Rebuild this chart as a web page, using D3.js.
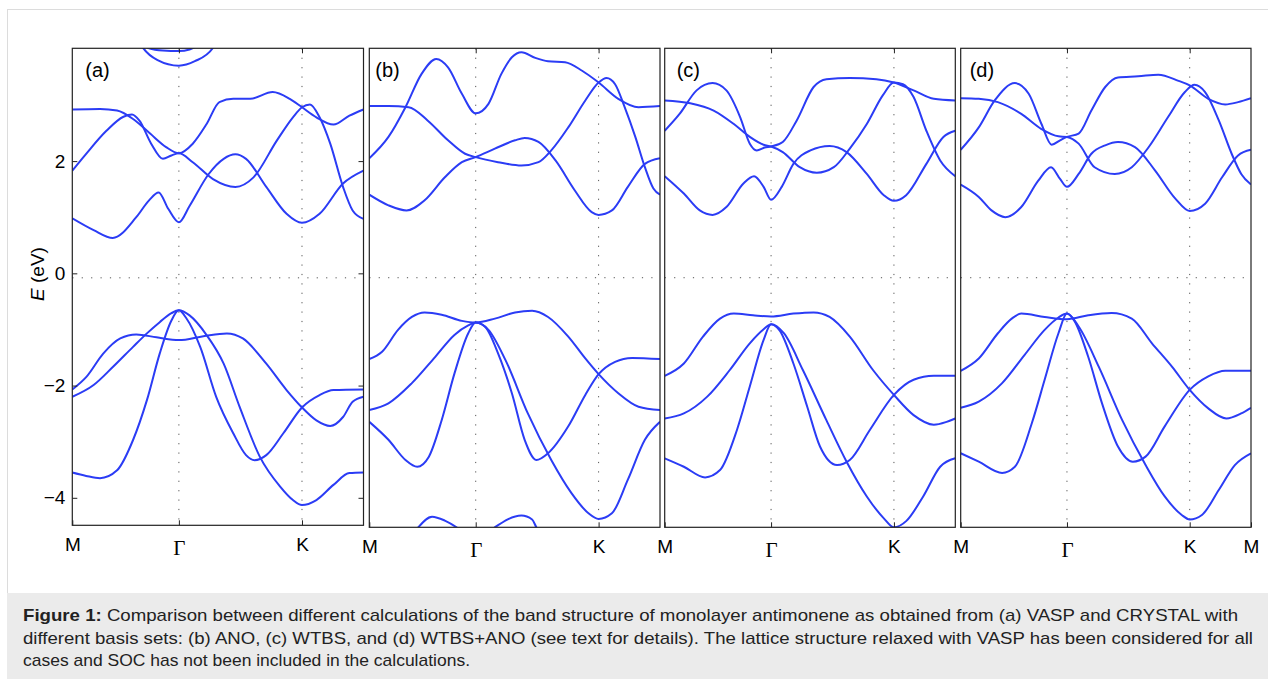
<!DOCTYPE html>
<html>
<head>
<meta charset="utf-8">
<script src="https://cdn.jsdelivr.net/npm/d3@7"></script>
<style>
  body { margin: 0; background: #fff; }
  svg { display: block; }
</style>
</head>
<body>
<div id="chart"></div>
<script>
// high-symmetry path M - Γ - K - M (path length units)
const kTicks = [0, 1, 2.155, 2.732];
const kLabels = ["M", "Γ", "K", "M"];
const eTicks = [-4, -2, 0, 2];
const fermiLevel = -0.08;
const panelLetters = ["(a)", "(b)", "(c)", "(d)"];

// (a) VASP
const bandsA = [
    [[0,0.98],[0.2,0.77],[0.38,0.63],[0.6,1.0],[0.72,1.3],[0.81,1.44],[0.9,1.15],[1,0.91],[1.1,1.2],[1.28,1.77],[1.42,2.04],[1.53,2.12],[1.63,2.04],[1.82,1.54],[2.01,1.06],[2.155,0.9],[2.32,1.06],[2.54,1.6],[2.732,1.83]],
    [[0,1.83],[0.13,2.13],[0.32,2.54],[0.48,2.79],[0.56,2.83],[0.63,2.72],[0.74,2.31],[0.85,2.04],[0.93,2.1],[1,2.14],[1.13,1.98],[1.32,1.68],[1.53,1.54],[1.7,1.71],[1.92,2.37],[2.07,2.78],[2.155,2.96],[2.23,3.01],[2.32,2.78],[2.42,2.31],[2.54,1.54],[2.63,1.12],[2.732,0.97]],
    [[0,2.92],[0.26,2.93],[0.42,2.9],[0.57,2.75],[0.73,2.49],[0.88,2.25],[1,2.14],[1.13,2.31],[1.26,2.66],[1.38,3.05],[1.51,3.11],[1.67,3.11],[1.88,3.23],[2.04,3.11],[2.155,2.96],[2.29,2.78],[2.45,2.65],[2.6,2.81],[2.732,2.92]],
    [[0.62,4.15],[0.667,4.01],[0.8,3.8],[1,3.7],[1.15,3.78],[1.317,4.01],[1.36,4.15]],
    [[0.66,4.08],[0.72,4.01],[0.85,3.97],[1,3.96],[1.1,3.99],[1.16,4.04],[1.22,4.1]],
    [[0,-2.07],[0.13,-1.85],[0.29,-1.43],[0.45,-1.16],[0.6,-1.09],[0.79,-1.14],[1,-1.19],[1.23,-1.12],[1.45,-1.07],[1.6,-1.16],[1.82,-1.61],[2.01,-2.08],[2.155,-2.39],[2.29,-2.62],[2.42,-2.72],[2.54,-2.56],[2.63,-2.29],[2.732,-2.2]],
    [[0,-2.2],[0.2,-1.99],[0.38,-1.67],[0.57,-1.31],[0.7,-1.07],[0.82,-0.87],[0.93,-0.71],[1,-0.66],[1.07,-0.8],[1.2,-1.31],[1.35,-2.2],[1.51,-2.85],[1.63,-3.24],[1.71,-3.33],[1.82,-3.24],[1.98,-2.85],[2.155,-2.39],[2.32,-2.17],[2.45,-2.08],[2.732,-2.07]],
    [[0,-3.55],[0.13,-3.61],[0.26,-3.65],[0.42,-3.51],[0.57,-2.97],[0.7,-2.26],[0.82,-1.43],[0.93,-0.84],[1,-0.66],[1.1,-0.75],[1.26,-1.1],[1.42,-1.61],[1.57,-2.38],[1.76,-3.27],[1.95,-3.8],[2.07,-4.04],[2.155,-4.13],[2.29,-4.04],[2.45,-3.77],[2.6,-3.56],[2.732,-3.55]]
];

// (b) CRYSTAL ANO
const bandsB = [
    [[0,1.4],[0.18,1.21],[0.35,1.12],[0.52,1.3],[0.71,1.71],[0.87,1.98],[1,2.07],[1.18,2.22],[1.37,2.37],[1.46,2.41],[1.59,2.34],[1.75,2.01],[1.93,1.48],[2.09,1.09],[2.155,1.04],[2.28,1.12],[2.43,1.54],[2.59,1.95],[2.732,2.05]],
    [[0,2.05],[0.18,2.43],[0.34,2.96],[0.49,3.55],[0.63,3.82],[0.74,3.67],[0.87,3.2],[1,2.85],[1.12,3.02],[1.24,3.55],[1.34,3.85],[1.43,3.94],[1.56,3.84],[1.68,3.78],[1.84,3.76],[2.0,3.61],[2.155,3.4],[2.34,3.11],[2.53,2.96],[2.732,2.98]],
    [[0,2.98],[0.18,2.98],[0.37,2.96],[0.55,2.72],[0.74,2.37],[0.9,2.13],[1,2.07],[1.21,1.98],[1.43,1.92],[1.59,1.98],[1.71,2.19],[1.87,2.6],[2.03,3.08],[2.155,3.4],[2.23,3.48],[2.31,3.37],[2.4,2.96],[2.5,2.43],[2.59,1.89],[2.67,1.51],[2.732,1.4]],
    [[0,-1.53],[0.12,-1.4],[0.27,-1.01],[0.4,-0.78],[0.52,-0.7],[0.68,-0.74],[0.87,-0.85],[1,-0.88],[1.18,-0.81],[1.37,-0.7],[1.53,-0.67],[1.68,-0.78],[1.87,-1.13],[2.03,-1.52],[2.155,-1.8],[2.34,-2.14],[2.53,-2.38],[2.732,-2.44]],
    [[0,-2.44],[0.18,-2.32],[0.4,-1.96],[0.62,-1.49],[0.8,-1.1],[0.93,-0.93],[1,-0.88],[1.09,-0.96],[1.21,-1.43],[1.34,-2.14],[1.46,-2.97],[1.57,-3.33],[1.68,-3.21],[1.87,-2.73],[2.03,-2.17],[2.155,-1.8],[2.31,-1.58],[2.47,-1.51],[2.732,-1.53]],
    [[0,-2.65],[0.18,-2.97],[0.34,-3.33],[0.45,-3.45],[0.56,-3.27],[0.68,-2.62],[0.8,-1.79],[0.93,-1.07],[1,-0.88],[1.12,-1.01],[1.28,-1.55],[1.49,-2.5],[1.71,-3.33],[1.9,-3.92],[2.06,-4.28],[2.155,-4.38],[2.28,-4.28],[2.43,-3.68],[2.59,-2.97],[2.732,-2.65]],
    [[0.34,-4.87],[0.46,-4.53],[0.59,-4.34],[0.71,-4.41],[0.82,-4.53],[1,-4.81],[1.18,-4.53],[1.43,-4.32],[1.53,-4.39],[1.57,-4.53],[1.68,-4.87]]
];

// (c) CRYSTAL WTBS
const bandsC = [
    [[0,1.73],[0.18,1.42],[0.33,1.12],[0.45,1.04],[0.58,1.18],[0.74,1.6],[0.84,1.73],[0.93,1.54],[1,1.31],[1.1,1.54],[1.21,1.95],[1.37,2.19],[1.55,2.27],[1.71,2.16],[1.9,1.77],[2.06,1.39],[2.155,1.29],[2.27,1.39],[2.46,1.95],[2.62,2.43],[2.732,2.54]],
    [[0,2.54],[0.14,2.84],[0.3,3.26],[0.45,3.39],[0.58,3.26],[0.71,2.78],[0.8,2.31],[0.865,2.19],[0.94,2.24],[1,2.26],[1.11,2.34],[1.24,2.72],[1.4,3.32],[1.52,3.46],[1.74,3.48],[1.99,3.46],[2.155,3.4],[2.34,3.26],[2.53,3.11],[2.732,3.08]],
    [[0,3.08],[0.24,3.03],[0.46,2.9],[0.65,2.66],[0.8,2.43],[0.93,2.29],[1,2.26],[1.11,2.16],[1.27,1.89],[1.43,1.79],[1.59,1.89],[1.74,2.22],[1.9,2.66],[2.05,3.17],[2.155,3.4],[2.24,3.37],[2.34,3.14],[2.46,2.54],[2.59,2.01],[2.732,1.73]],
    [[0,-1.83],[0.18,-1.61],[0.36,-1.13],[0.52,-0.81],[0.65,-0.72],[0.83,-0.75],[1,-0.77],[1.21,-0.72],[1.4,-0.7],[1.55,-0.78],[1.74,-1.13],[1.96,-1.73],[2.155,-2.17],[2.34,-2.53],[2.53,-2.7],[2.65,-2.65],[2.732,-2.59]],
    [[0,-2.59],[0.18,-2.5],[0.4,-2.2],[0.61,-1.73],[0.8,-1.25],[0.93,-1.0],[1,-0.91],[1.08,-1.02],[1.21,-1.61],[1.34,-2.38],[1.46,-3.09],[1.62,-3.42],[1.74,-3.33],[1.93,-2.79],[2.155,-2.17],[2.34,-1.9],[2.53,-1.83],[2.732,-1.83]],
    [[0,-3.3],[0.18,-3.45],[0.38,-3.64],[0.52,-3.51],[0.68,-2.79],[0.8,-2.02],[0.93,-1.19],[1,-0.91],[1.12,-1.07],[1.3,-1.73],[1.52,-2.62],[1.71,-3.36],[1.9,-3.98],[2.06,-4.37],[2.155,-4.53],[2.27,-4.42],[2.43,-3.98],[2.59,-3.45],[2.732,-3.3]]
];

// (d) CRYSTAL WTBS+ANO
const bandsD = [
    [[0,1.58],[0.17,1.36],[0.29,1.12],[0.42,1.0],[0.57,1.18],[0.73,1.65],[0.85,1.89],[0.935,1.68],[1,1.54],[1.11,1.77],[1.23,2.13],[1.36,2.28],[1.48,2.34],[1.64,2.25],[1.83,1.83],[2.02,1.33],[2.155,1.11],[2.3,1.24],[2.46,1.71],[2.61,2.1],[2.732,2.2]],
    [[0,2.2],[0.17,2.6],[0.32,3.08],[0.51,3.39],[0.64,3.2],[0.76,2.66],[0.856,2.29],[0.935,2.37],[1,2.43],[1.11,2.49],[1.23,2.9],[1.36,3.32],[1.48,3.49],[1.67,3.51],[1.86,3.54],[2.05,3.43],[2.155,3.35],[2.33,3.11],[2.49,3.01],[2.61,3.05],[2.732,3.12]],
    [[0,3.12],[0.17,3.11],[0.35,3.05],[0.57,2.84],[0.76,2.57],[0.92,2.44],[1,2.43],[1.11,2.31],[1.26,1.89],[1.45,1.77],[1.61,1.89],[1.77,2.25],[1.95,2.78],[2.11,3.23],[2.2,3.36],[2.3,3.23],[2.43,2.72],[2.55,2.13],[2.64,1.77],[2.732,1.58]],
    [[0,-1.74],[0.17,-1.52],[0.35,-1.07],[0.48,-0.81],[0.57,-0.72],[0.79,-0.78],[1,-0.82],[1.2,-0.75],[1.42,-0.71],[1.61,-0.81],[1.8,-1.25],[1.99,-1.67],[2.155,-2.08],[2.33,-2.41],[2.5,-2.59],[2.64,-2.5],[2.732,-2.4]],
    [[0,-2.4],[0.17,-2.29],[0.39,-1.96],[0.6,-1.46],[0.79,-1.01],[0.92,-0.79],[1,-0.72],[1.07,-0.85],[1.2,-1.49],[1.33,-2.32],[1.48,-3.09],[1.62,-3.36],[1.74,-3.27],[1.92,-2.73],[2.155,-2.08],[2.33,-1.84],[2.49,-1.74],[2.732,-1.74]],
    [[0,-3.21],[0.17,-3.36],[0.39,-3.56],[0.51,-3.45],[0.67,-2.67],[0.79,-1.9],[0.92,-1.07],[1,-0.72],[1.11,-0.95],[1.3,-1.67],[1.52,-2.62],[1.74,-3.42],[1.92,-3.98],[2.08,-4.31],[2.155,-4.39],[2.27,-4.31],[2.43,-3.86],[2.58,-3.42],[2.732,-3.21]]
];

const captionLines = [
    "Comparison between different calculations of the band structure of monolayer antimonene as obtained from (a) VASP and CRYSTAL with",
    "different basis sets: (b) ANO, (c) WTBS, and (d) WTBS+ANO (see text for details). The lattice structure relaxed with VASP has been considered for all",
    "cases and SOC has not been included in the calculations."
];

// layout of the four subplots (pixels)
const layout = [
    {bands: bandsA, x0: 72.3, x1: 363.5, y1: 525.3, eMin: -4.49, labelDx: 13},
    {bands: bandsB, x0: 369.3, x1: 660, y1: 527.3, eMin: -4.53, labelDx: 6},
    {bands: bandsC, x0: 664.7, x1: 955.3, y1: 527.3, eMin: -4.53, labelDx: 12},
    {bands: bandsD, x0: 960.7, x1: 1251, y1: 527.3, eMin: -4.53, labelDx: 9}
];
const plotTop = 48.3, eMax = 4.01;
const blue = "#2b3cf5";
const sans = "'Liberation Sans', Arial, Helvetica, sans-serif";

const svg = d3.select("#chart").append("svg")
    .attr("width", 1268)
    .attr("height", 679);

// page frame + caption box
svg.append("rect")
    .attr("x", 7.5).attr("y", 9.5)
    .attr("width", 1300).attr("height", 700)
    .attr("fill", "#fff").attr("stroke", "#dcdcdc");

svg.append("rect")
    .attr("x", 7).attr("y", 593)
    .attr("width", 1261).attr("height", 86)
    .attr("fill", "#ebebeb");

let caption = svg.append("text")
    .attr("font-family", sans)
    .attr("font-size", 17)
    .attr("fill", "#222");

let capWidths = [1215, 1230, 447];
captionLines.forEach((line, i) => {
    let t = caption.append("tspan")
        .attr("x", 23)
        .attr("y", 621 + i * 22.6)
        .attr("textLength", capWidths[i])
        .attr("lengthAdjust", "spacingAndGlyphs");
    if (i === 0) {
        t.append("tspan").attr("font-weight", "bold").text("Figure 1:");
        t.append("tspan").text(" " + line);
    } else {
        t.text(line);
    }
});

// y axis title
svg.append("text")
    .attr("transform", "translate(44,274)rotate(-90)")
    .attr("text-anchor", "middle")
    .attr("font-family", sans)
    .attr("font-size", 19)
    .html('<tspan font-style="italic">E</tspan> (eV)');

layout.forEach((p, i) => {
    let x = d3.scaleLinear().domain([0, kTicks[3]]).range([p.x0, p.x1]);
    let y = d3.scaleLinear().domain([p.eMin, eMax]).range([p.y1, plotTop]);

    let g = svg.append("g");

    g.append("clipPath").attr("id", "clip" + i)
        .append("rect")
        .attr("x", p.x0).attr("y", plotTop)
        .attr("width", p.x1 - p.x0).attr("height", p.y1 - plotTop);

    g.append("rect")
        .attr("x", p.x0).attr("y", plotTop)
        .attr("width", p.x1 - p.x0).attr("height", p.y1 - plotTop)
        .attr("fill", "#fff");

    // dotted guides at Γ, K and Fermi level
    g.selectAll(".vguide")
        .data([kTicks[1], kTicks[2]])
        .join("line")
        .attr("x1", d => x(d)).attr("x2", d => x(d))
        .attr("y1", plotTop).attr("y2", p.y1)
        .attr("stroke", "#555").attr("stroke-width", 1)
        .attr("stroke-dasharray", "1.2 8.2");

    g.append("line")
        .attr("x1", x(0)).attr("x2", x(kTicks[3]))
        .attr("y1", y(fermiLevel)).attr("y2", y(fermiLevel))
        .attr("stroke", "#555").attr("stroke-width", 1)
        .attr("stroke-dasharray", "1.2 8.2");

    // bands
    let line = d3.line()
        .x(d => x(d[0]))
        .y(d => y(d[1]))
        .curve(d3.curveMonotoneX);

    g.append("g")
        .attr("clip-path", `url(#clip${i})`)
        .selectAll("path")
        .data(p.bands)
        .join("path")
        .attr("d", line)
        .attr("fill", "none")
        .attr("stroke", blue)
        .attr("stroke-width", 2)
        .attr("stroke-linejoin", "round");

    // axes
    let xBottom = d3.axisBottom(x)
        .tickValues(i === 3 ? kTicks : kTicks.slice(0, 3))
        .tickFormat(d => kLabels[kTicks.indexOf(d)])
        .tickSizeInner(-5).tickSizeOuter(0).tickPadding(12.5);

    let bx = g.append("g")
        .attr("transform", `translate(0,${p.y1})`)
        .call(xBottom);
    bx.select(".domain").remove();
    bx.selectAll("line").attr("stroke", "#222");
    bx.selectAll("text")
        .attr("fill", "#000")
        .attr("font-family", sans)
        .attr("font-size", 19);
    bx.selectAll("text").filter(d => d === 1)
        .attr("font-family", "'Liberation Serif', 'Times New Roman', serif")
        .attr("font-size", 21)
        .attr("dy", "0.8em");

    let xTop = d3.axisTop(x).tickValues([kTicks[1], kTicks[2]])
        .tickFormat("").tickSizeInner(-5).tickSizeOuter(0);
    let tx = g.append("g").attr("transform", `translate(0,${plotTop})`).call(xTop);
    tx.select(".domain").remove();
    tx.selectAll("line").attr("stroke", "#222");

    if (i === 0) {
        let yLeft = d3.axisLeft(y).tickValues(eTicks)
            .tickSizeInner(-5).tickSizeOuter(0).tickPadding(7);
        let ly = g.append("g").attr("transform", `translate(${p.x0},0)`).call(yLeft);
        ly.select(".domain").remove();
        ly.selectAll("line").attr("stroke", "#222");
        ly.selectAll("text")
            .attr("fill", "#000")
            .attr("font-family", sans)
            .attr("font-size", 19);

        let yRight = d3.axisRight(y).tickValues(eTicks)
            .tickFormat("").tickSizeInner(-5).tickSizeOuter(0);
        let ry = g.append("g").attr("transform", `translate(${p.x1},0)`).call(yRight);
        ry.select(".domain").remove();
        ry.selectAll("line").attr("stroke", "#222");
    }

    // frame
    g.append("rect")
        .attr("x", p.x0).attr("y", plotTop)
        .attr("width", p.x1 - p.x0).attr("height", p.y1 - plotTop)
        .attr("fill", "none")
        .attr("stroke", "#222")
        .attr("stroke-width", 1.2);

    g.append("text")
        .attr("x", p.x0 + p.labelDx)
        .attr("y", 77)
        .attr("font-family", sans)
        .attr("font-size", 20)
        .text(panelLetters[i]);
});
</script>
</body>
</html>
